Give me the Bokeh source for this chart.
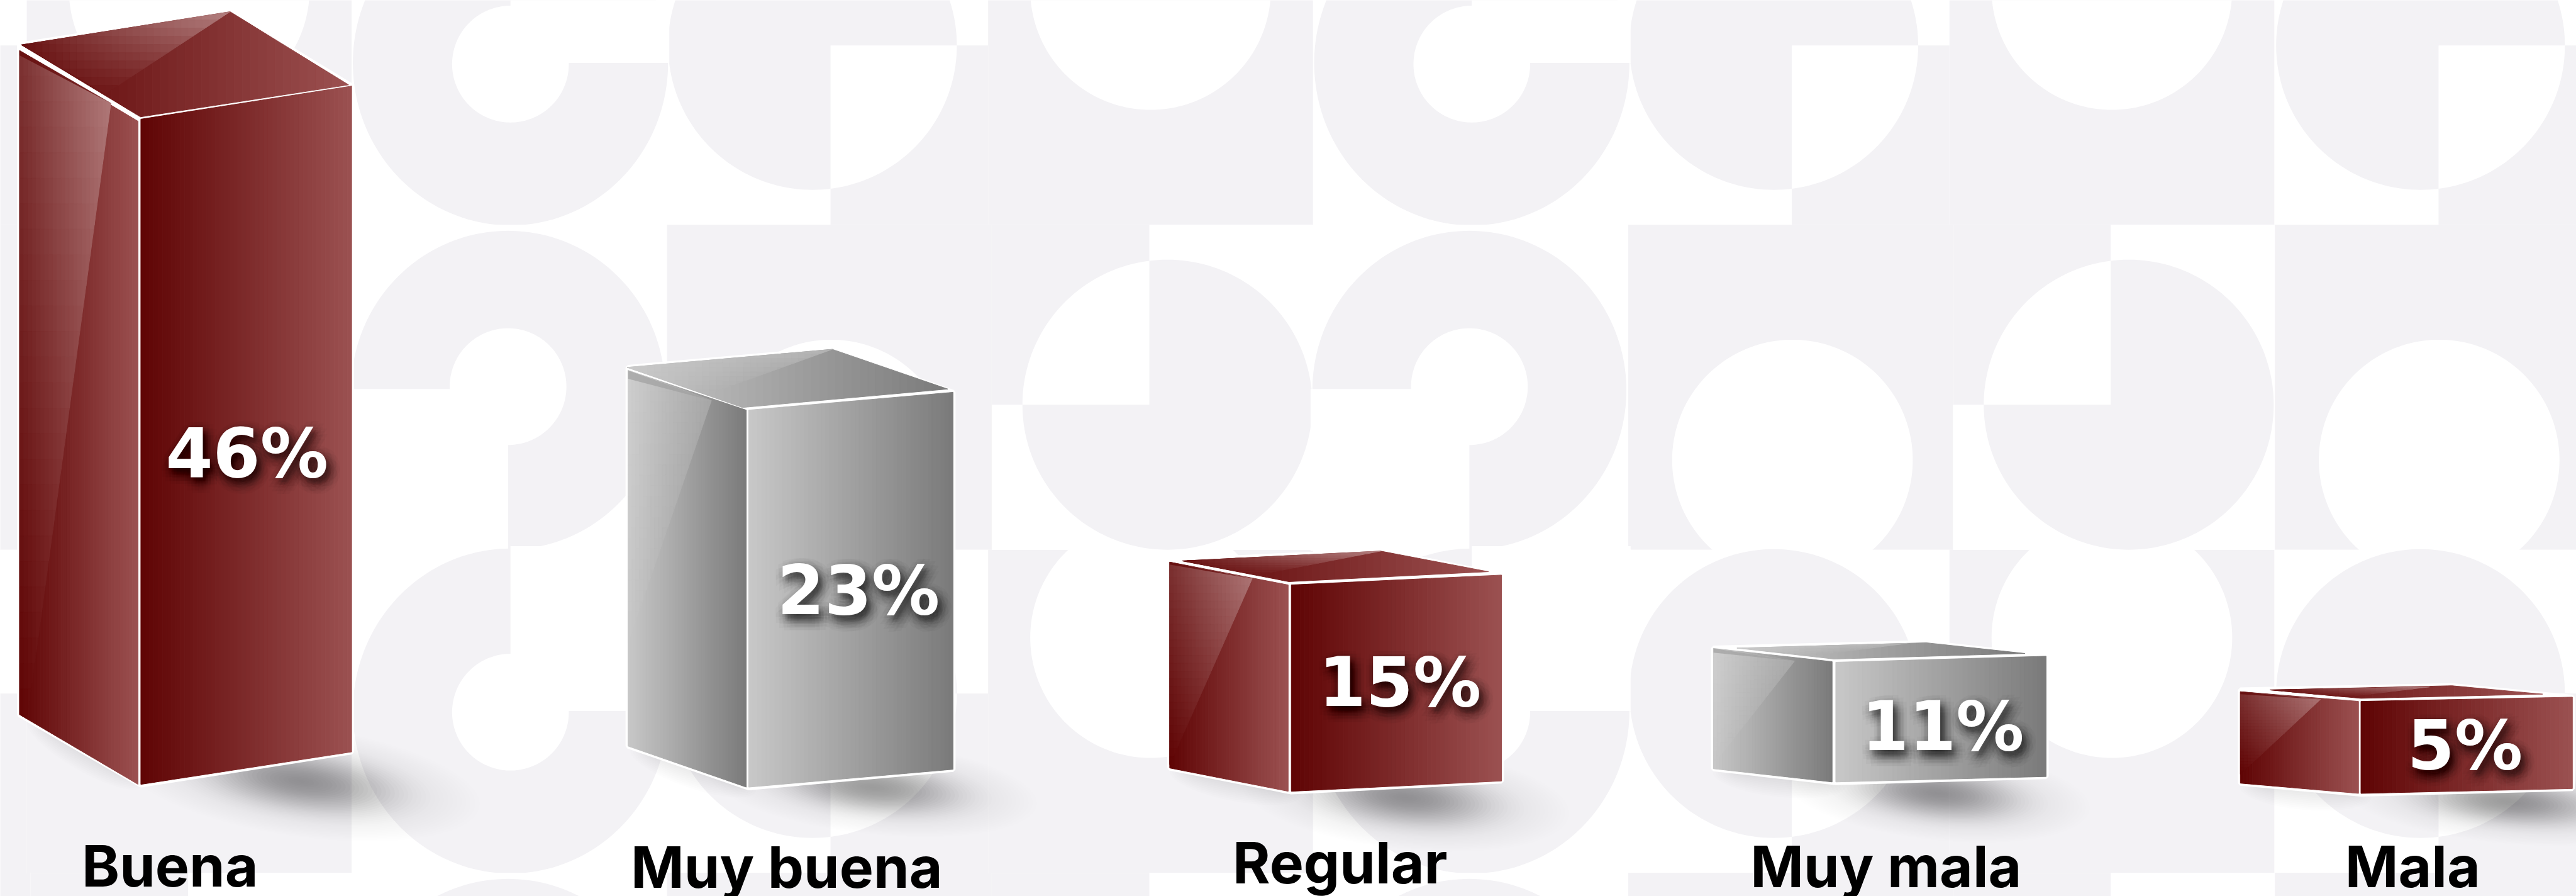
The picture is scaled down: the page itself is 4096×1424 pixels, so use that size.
import math
import numpy as np
from bokeh.plotting import figure
from bokeh.models import ColumnDataSource, Range1d
from bokeh.core.properties import value
from bokeh.embed import file_html
from bokeh.resources import INLINE

# ---- data ----
categories = ["Buena", "Muy buena", "Regular", "Muy mala", "Mala"]
percent = [46, 23, 15, 11, 5]
palette_name = ["red", "gray", "red", "gray", "red"]

# the picture's own (non-linear) scale: percent -> height of the box, reference px
HEIGHT_VALUES = [5, 11, 15, 23, 46]
HEIGHT_PIXELS = [153, 199, 343, 626.6, 1105.5]

# ---- page ----
W, H = 4096, 1424
GREY = "#f3f2f5"
p = figure(width=W, height=H, output_backend="svg", toolbar_location=None,
           x_axis_type=None, y_axis_type=None, min_border=0,
           x_range=Range1d(0, 4282),
           y_range=Range1d(1489, 0))
p.outline_line_color = None
p.grid.visible = False
p.background_fill_color = "white"
p.border_fill_color = "white"


def clip(poly, x0, x1, y0, y1):
    def cut(pts, inside, inter):
        out = []
        for i in range(len(pts)):
            a, b = pts[i - 1], pts[i]
            ia, ib = inside(a), inside(b)
            if ib:
                if not ia:
                    out.append(inter(a, b))
                out.append(b)
            elif ia:
                out.append(inter(a, b))
        return out

    def ix(v):
        return lambda a, b: (v, a[1] + (b[1] - a[1]) * (v - a[0]) / (b[0] - a[0]))

    def iy(v):
        return lambda a, b: (a[0] + (b[0] - a[0]) * (v - a[1]) / (b[1] - a[1]), v)

    pts = list(poly)
    for inside, inter in ((lambda q: q[0] >= x0, ix(x0)), (lambda q: q[0] <= x1, ix(x1)),
                          (lambda q: q[1] >= y0, iy(y0)), (lambda q: q[1] <= y1, iy(y1))):
        if not pts:
            return []
        pts = cut(pts, inside, inter)
    return pts


def ell(cx, cy, rx, ry, tilt=0.0, n=180):
    t = np.linspace(0, 2 * np.pi, n, endpoint=False)
    c, s = math.cos(math.radians(tilt)), math.sin(math.radians(tilt))
    return [(cx + rx * math.cos(a) * c - ry * math.sin(a) * s,
             cy + rx * math.cos(a) * s + ry * math.sin(a) * c) for a in t]


def box(x0, x1, y0, y1):
    return [(x0, y0), (x1, y0), (x1, y1), (x0, y1)]


# ---- background pattern ----
bg = []


def paint(poly, color):
    if poly:
        bg.append(([q[0] for q in poly], [q[1] for q in poly], color))


WH = "#ffffff"


def t1_upper(dx, dy):
    paint(box(585 + dx, 1108 + dx, -164 + dy, 373 + dy), WH)
    paint(ell(848 + dx, 104 + dy, 262, 270), GREY)
    paint(box(848 + dx, 1112 + dx, -170 + dy, 104 + dy), WH)
    paint(ell(848 + dx, 106 + dy, 97, 97), WH)


def t1_lower(dx, dy):
    paint(box(585 + dx, 1108 + dx, 373 + dy, 913 + dy), WH)
    paint(ell(844 + dx, 648 + dy, 261, 265), GREY)
    paint(box(580 + dx, 844 + dx, 646 + dy, 915 + dy), WH)
    paint(ell(844 + dx, 642 + dy, 97, 97), WH)


def t2_upper(dx, dy):
    paint(box(1108 + dx, 1642 + dx, -164 + dy, 373 + dy), WH)
    paint(box(1380 + dx, 1642 + dx, 75 + dy, 373 + dy), GREY)
    e = ell(1350 + dx, 75 + dy, 240, 240)
    paint(e, GREY)
    paint(clip(e, 1380 + dx, 9999, 75 + dy, 9999), WH)


def t2_lower(dx, dy):
    paint(box(1108 + dx, 1648 + dx, 373 + dy, 913 + dy), GREY)
    paint(ell(1381 + dx, 764 + dy, 200, 200), WH)


def t3_upper(dx, dy):
    paint(box(1642 + dx, 2182 + dx, -164 + dy, 373 + dy), GREY)
    paint(ell(1912 + dx, -18 + dy, 200, 200), WH)


def t3_lower(dx, dy):
    paint(box(1648 + dx, 2182 + dx, 373 + dy, 913 + dy), WH)
    paint(box(1648 + dx, 1910 + dx, 373 + dy, 672 + dy), GREY)
    e = ell(1940 + dx, 672 + dy, 241, 241)
    paint(e, GREY)
    paint(clip(e, -9999, 1910 + dx, -9999, 672 + dy), WH)


DY = 1077
for dx in (-1598, 0, 1598, 2673):
    t2_upper(dx, 0); t2_lower(dx, 0); t2_upper(dx, DY); t2_lower(dx, DY)
for dx in (-1598, 0, 1598):
    t3_upper(dx, 0); t3_upper(dx, DY); t3_lower(dx, 0); t3_lower(dx, DY)
for dx in (0, 1598):
    t1_upper(dx, 0); t1_lower(dx, 0); t1_upper(dx, DY); t1_lower(dx, DY)

p.patches("xs", "ys", fill_color="c", line_color=None,
          source=ColumnDataSource(dict(xs=[b[0] for b in bg], ys=[b[1] for b in bg], c=[b[2] for b in bg])))

# ---- box geometry (reference px); upper points are heights over the front's top-left corner ----
GEOM = [
    dict(fbl=(233.6, 1303), fbr=(584, 1249), lbl=(32, 1187), xr=229,
         tr=-55, ltl=-114, ltr=3.5, top=[(35, -123.5), (382, -178.5), (579, -57), (233, -3.8)],
         gt=(183.8, -26.5), tp=(382, -178.5), te=(175, -42.5), gb=(45.6, 1187), k=8,
         sh=(500, 1298, 300, 92, 8)),
    dict(fbl=(1244, 1307.6), fbr=(1583.7, 1278), lbl=(1043.5, 1239.4), xr=1240,
         tr=-29.6, ltl=-66, ltr=0, top=[(1042, -71), (1383, -101), (1575, -35), (1233.6, -4.3)],
         gt=(1182, -16), tp=(1383, -101), te=(1175, -26), gb=(1043.5, 1068), k=14,
         sh=(1450, 1308, 275, 78, 6)),
    dict(fbl=(2146, 1314.5), fbr=(2495.4, 1297.4), lbl=(1943.8, 1275.8), xr=2140.8,
         tr=-16.4, ltl=-37.9, ltr=0, top=[(1964.8, -39.9), (2294.5, -56.2), (2473.7, -22), (2142, -5.4)],
         gt=(2081, -10.4), tp=(2294.5, -56.2), te=(2089, -16.4), gb=(1944, 1270), k=4,
         sh=(2335, 1325, 275, 86, 6)),
    dict(fbl=(3051, 1299), fbr=(3400.7, 1290), lbl=(2847.7, 1277), xr=3045,
         tr=-10, ltl=-23, ltr=-1, top=[(2886.8, -23.5), (3201.4, -32.4), (3365.5, -14.6), (3048, -5.3)],
         gt=(2982.5, -2), tp=(3170, -31.4), te=(3023.6, -12.5), gb=(2847.7, 1270), k=7,
         sh=(3220, 1318, 255, 78, 6)),
    dict(fbl=(3924, 1318), fbr=(4275.5, 1310), lbl=(3723.6, 1301), xr=3920,
         tr=-7, ltl=-16, ltr=0, top=[(3773, -19), (4075, -26), (4226, -12), (3924, -5)],
         gt=(3857, -3.4), tp=(4038, -24), te=(3899, -7.3), gb=(3723.6, 1286), k=4,
         sh=(4170, 1332, 275, 70, 5)),
]
PAL = dict(red=((95, 4, 4), (155, 81, 81), 0.32), gray=((200, 200, 200), (122, 122, 122), 0.22))

# ---- shadows: stacked soft ellipses, bell-shaped fall-off ----
shadow = dict(xs=[], ys=[], a=[])
N_SH = 40
PEAK = 0.42
bell = lambda s: PEAK * math.exp(-(s * 2.2) ** 2)
for g in GEOM:
    cx, cy, a, b, tilt = g["sh"]
    for i in range(N_SH):
        s = 1 - i / N_SH
        e = ell(cx, cy, a * s, b * s, tilt, 90)
        shadow["xs"].append([q[0] for q in e])
        shadow["ys"].append([q[1] for q in e])
        shadow["a"].append(max(0.003, bell(s - 1 / N_SH) - bell(s)))
    (x0, y0), (x1, y1) = g["lbl"], g["fbl"]
    tl = math.degrees(math.atan2(y1 - y0, x1 - x0))
    for i in range(10):
        s = 1 - i / 10
        e = ell((x0 + x1) / 2 + 8, (y0 + y1) / 2 + 6, (x1 - x0) / 2 * 1.1 * (0.6 + 0.4 * s), 30 * s, tl, 60)
        shadow["xs"].append([q[0] for q in e])
        shadow["ys"].append([q[1] for q in e])
        shadow["a"].append(0.009)
p.patches("xs", "ys", fill_color="black", fill_alpha="a", line_color=None, source=ColumnDataSource(shadow))

# ---- boxes ----
bars = dict(xs=[], ys=[], c=[], a=[], lw=[])


def hexc(col):
    return "#%02x%02x%02x" % tuple(int(round(max(0, min(255, v)))) for v in col)


def add(poly, color, alpha=1.0, lw=1.0):
    bars["xs"].append([q[0] for q in poly])
    bars["ys"].append([q[1] for q in poly])
    bars["c"].append(color)
    bars["a"].append(alpha)
    bars["lw"].append(lw)


def shade(poly, colorfn, nx, ny):
    xs = [q[0] for q in poly]
    ys = [q[1] for q in poly]
    xe = np.linspace(min(xs), max(xs), nx + 1)
    ye = np.linspace(min(ys), max(ys), ny + 1)
    for i in range(nx):
        for j in range(ny):
            c = clip(poly, xe[i], xe[i + 1], ye[j], ye[j + 1])
            if len(c) >= 3:
                add(c, hexc(colorfn((xe[i] + xe[i + 1]) / 2, (ye[j] + ye[j + 1]) / 2)))


def mix(a, b, t):
    t = max(0.0, min(1.0, t))
    return tuple(a[k] + (b[k] - a[k]) * t for k in range(3))


front_heights = np.interp(percent, HEIGHT_VALUES, HEIGHT_PIXELS)
WHITE = (255, 255, 255)

for g, pal, fh in zip(GEOM, palette_name, front_heights):
    c0, c1, ga = PAL[pal]
    fx, fy = g["fbl"]
    ay = fy - fh
    rx, ry = g["fbr"]
    lx, ly = g["lbl"]
    up = lambda q: (q[0], q[1] + ay)
    T = [up(q) for q in g["top"]]
    # white silhouette
    hull = [(lx, T[0][1]), T[1], (rx, ay + g["tr"]), (rx, ry), (fx, fy + 1), (lx, ly)]
    add(hull, "#ffffff", 1.0, 8.0)
    # left face
    xr = g["xr"]
    left = [(lx, ay + g["ltl"]), (xr, ay + g["ltr"]), (xr, fy), (lx, ly)]
    base_l = lambda x: mix(c0, c1, (x - lx) / (xr - lx))
    shade(left, lambda x, y: base_l(x), 40, 1)
    # gloss on the left face
    gt = up(g["gt"])
    gb = g["gb"]
    gloss = [(lx, ay + g["ltl"]), gt, gb, (lx, gb[1])]
    gy0, gy1 = ay + g["ltl"], gb[1]

    def col_gloss(x, y):
        u = (x - lx) / max(1, gt[0] - lx)
        v = (y - gy0) / max(1, gy1 - gy0)
        return mix(base_l(x), WHITE, ga * (0.55 + 0.45 * u) * (1 - v))

    shade(gloss, col_gloss, 22, 26)
    add([(lx, ay + g["ltl"]), gt, (lx, ay + g["ltl"] + g["k"])], hexc(c0 if pal == "red" else (160, 160, 160)), 0.7, 0.0)
    # top face
    x0, x1 = T[0][0], T[2][0]
    base_t = lambda x: mix(c0, c1, (x - x0) / (x1 - x0))
    shade(T, lambda x, y: base_t(x), 40, 1)
    tp = up(g["tp"])
    te = up(g["te"])
    ex, ey = tp[0] - T[0][0], tp[1] - T[0][1]
    en = math.hypot(ex, ey)
    dmax = abs((te[0] - T[0][0]) * ey - (te[1] - T[0][1]) * ex) / en

    def col_top(x, y):
        d = abs((x - T[0][0]) * ey - (y - T[0][1]) * ex) / en / max(1, dmax)
        u = ((x - T[0][0]) * ex + (y - T[0][1]) * ey) / en / en
        return mix(base_t(x), WHITE, (ga + 0.06) * max(0, 1 - d) * (0.15 + 0.85 * u))

    shade([T[0], tp, te], col_top, 30, 10)
    # front face
    front = [(fx, ay), (rx, ay + g["tr"]), (rx, ry), (fx, fy)]
    shade(front, lambda x, y: mix(c0, c1, (x - fx) / (rx - fx)), 48, 1)

p.patches("xs", "ys", fill_color="c", fill_alpha="a", line_color="c", line_alpha="a", line_width="lw",
          source=ColumnDataSource(bars))

# ---- texts ----
LABEL_X = [282, 1307, 2227, 3134.5, 4010]
LABEL_Y = [1438, 1440.5, 1433.5, 1439.5, 1439.5]
PCT_X = [410, 1426.5, 2326.5, 3229, 4097]
PCT_Y = [752.5, 981, 1133.5, 1207, 1238.5]
pct_text = [f"{v}%" for v in percent]

sx, sy, st = [], [], []
for x, y, t in zip(PCT_X, PCT_Y, pct_text):
    for r in (3, 8, 13, 18):
        for k in range(12):
            a = 2 * math.pi * k / 12 + r
            sx.append(x + 6 + r * math.cos(a))
            sy.append(y + 9 + r * math.sin(a))
            st.append(t)
p.text(sx, sy, text=st, text_color="black", text_alpha=0.024, text_font=value("DejaVu Sans"),
       text_font_style="bold", text_font_size="108px", text_align="center", text_baseline="middle")
p.text(PCT_X, PCT_Y, text=pct_text, text_color="white", text_font=value("DejaVu Sans"),
       text_font_style="bold", text_font_size="108px", text_align="center", text_baseline="middle")
p.text(LABEL_X, LABEL_Y, text=categories, text_color="black", text_font=value("Inter"),
       text_font_style="bold", text_font_size="91px", text_align="center", text_baseline="middle")

open("out.html", "w").write(file_html(p, INLINE))
